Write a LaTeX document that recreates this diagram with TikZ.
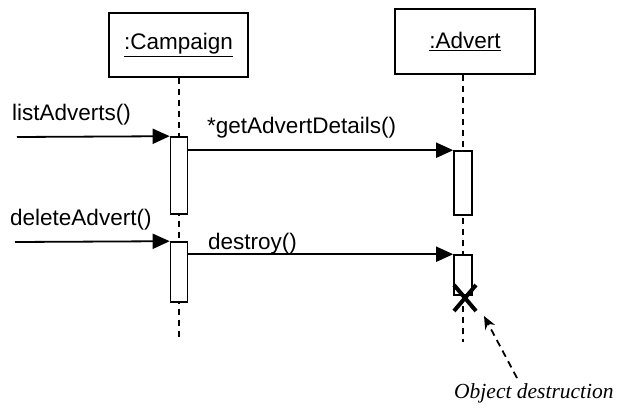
\documentclass[tikz,border=0pt]{standalone}
\usepackage{fontspec}
\setmainfont{Liberation Sans}
\newfontfamily\notefont{Liberation Serif}
\usepackage{tikz}
\usetikzlibrary{arrows.meta, positioning, calc}

\begin{document}
\begin{tikzpicture}[x=1pt,y=-1pt,
      font=\fontsize{22.5}{26}\selectfont,
      objbox/.style={draw,line width=1.8pt,minimum width=139pt,minimum height=64pt},
      actbox/.style={draw,fill=white,line width=1.6pt,minimum width=17pt,inner sep=0pt},
      lifeline/.style={line width=1.8pt,dash pattern=on 6pt off 5pt},
      msg/.style={line width=1.8pt,-{Triangle[length=17pt,width=15pt]}},
      msglabel/.style={anchor=base west,inner sep=0pt}]
    \useasboundingbox (0,0) rectangle (620,409);
    % objects
    \node[objbox] (camp) at (178.5,45) {\underline{:Campaign}};
    \node[objbox,minimum width=140pt,minimum height=65pt] (adv) at (465,41.5) {\underline{:Advert}};
    % lifelines
    \coordinate (campend) at (179,340);
    \coordinate (advend) at (463,342);
    \draw[lifeline] (camp.south -| campend) -- (campend);
    \draw[lifeline] (adv.south -| advend) -- (advend);
    % activations
    \node[actbox,minimum height=77pt] (ca1) at (179,175.5) {};
    \node[actbox,minimum height=60pt] (ca2) at (179,272) {};
    \node[actbox,minimum width=18pt,minimum height=64pt] (aa1) at (463,183) {};
    \node[actbox,minimum width=18pt,minimum height=40pt] (aa2) at (463,275) {};
    % messages
    \coordinate (in1) at (17,137);
    \coordinate (in2) at (15,242);
    \draw[msg] (in1) -- (ca1.north west);
    \draw[msg] (ca1.east |- aa1.north west) -- (aa1.north west);
    \draw[msg] (in2) -- (ca2.north west);
    \draw[msg] (ca2.east |- aa2.north west) -- (aa2.north west);
    \node[msglabel] (l1) at (12,120) {listAdverts()};
    \node[msglabel] (l2) at (207,133) {*getAdvertDetails()};
    \node[msglabel] (l3) at (10,225) {deleteAdvert()};
    \node[msglabel] (l4) at (208,249) {destroy()};
    % destruction
    \coordinate (xc) at (465,298);
    \draw[line width=4pt] ($(xc)+(-11,-13)$) -- ($(xc)+(11,13)$)
                          ($(xc)+(11,-13)$) -- ($(xc)+(-11,13)$);
    \node[msglabel,font=\notefont\itshape\fontsize{21.5}{25}\selectfont] (note) at (454,398) {Object destruction};
    \draw[line width=1.8pt,dash pattern=on 7pt off 5pt,-{Stealth[length=13pt,width=11pt]}]
      (517,378) -- (484,316);
  \end{tikzpicture}
\end{document}
